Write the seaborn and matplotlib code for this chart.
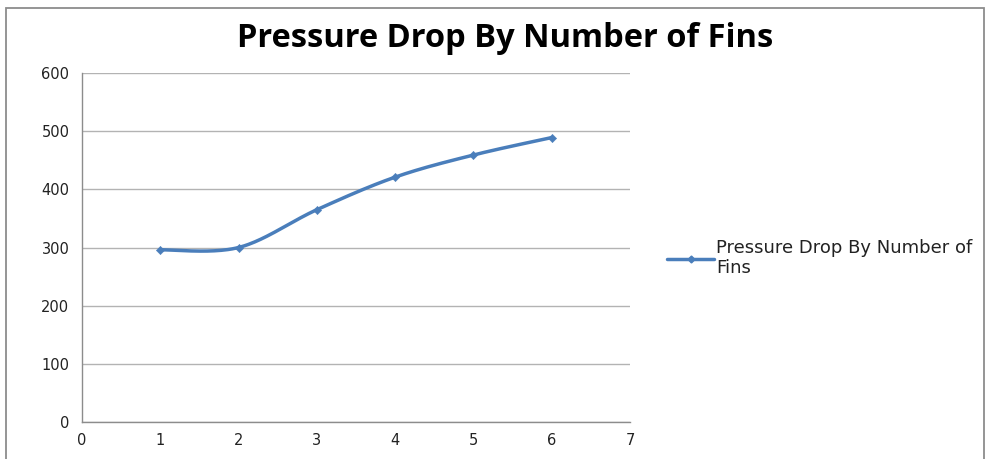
import numpy as np
import matplotlib
matplotlib.use("Agg")
import matplotlib.pyplot as plt
import seaborn as sns
from matplotlib.lines import Line2D
from matplotlib.patches import Rectangle

fins = [1, 2, 3, 4, 5, 6]
pressure_drop = [296, 300, 365, 421, 459, 489]
series_name = "Pressure Drop By Number of Fins"
title = "Pressure Drop By Number of Fins"
x_ticks = [0, 1, 2, 3, 4, 5, 6, 7]
y_ticks = [0, 100, 200, 300, 400, 500, 600]

sns.set_theme(style="white")
plt.rcParams['font.family'] = ['DejaVu Sans']

def excel_smooth(xs, ys, n=40):
    P = np.column_stack([xs, ys]).astype(float)
    Pe = np.vstack([P[0], P, P[-1]])
    out = []
    for i in range(1, len(Pe) - 2):
        p0, p1, p2, p3 = Pe[i - 1], Pe[i], Pe[i + 1], Pe[i + 2]
        c1 = p1 + (p2 - p0) / 6.0
        c2 = p2 - (p3 - p1) / 6.0
        t = np.linspace(0, 1, n)[:, None]
        seg = ((1 - t) ** 3) * p1 + 3 * ((1 - t) ** 2) * t * c1 + 3 * (1 - t) * t ** 2 * c2 + t ** 3 * p2
        out.append(seg if i == 1 else seg[1:])
    c = np.vstack(out)
    return c[:, 0], c[:, 1]

color = "#4A7EBB"
fig = plt.figure(figsize=(9.89, 4.59), dpi=100)
ax = fig.add_axes([82 / 989, 37 / 459, (630 - 82) / 989, (422 - 73) / 459])

sx, sy = excel_smooth(fins, pressure_drop)
sns.lineplot(x=sx, y=sy, sort=False, ax=ax, color=color, linewidth=2.5, estimator=None)
sns.scatterplot(x=fins, y=pressure_drop, ax=ax, color=color, marker="D", s=18, edgecolor=color, zorder=5)

ax.set_xlim(x_ticks[0], x_ticks[-1])
ax.set_ylim(y_ticks[0], y_ticks[-1])
ax.set_xticks(x_ticks)
ax.set_yticks(y_ticks)
ax.yaxis.grid(True, color="#B3B3B3", linewidth=1)
ax.xaxis.grid(False)
ax.set_axisbelow(True)
for s in ["top", "right"]:
    ax.spines[s].set_visible(False)
for s in ["left", "bottom"]:
    ax.spines[s].set_color("#8C8C8C")
    ax.spines[s].set_linewidth(1)
ax.tick_params(axis="both", which="major", direction="out", length=5, width=1,
               color="#8C8C8C", labelsize=10.5, labelcolor="#222222", pad=4)
ax.tick_params(axis="x", pad=3)

fig.text(0.511, 0.917, title, ha="center", va="center", fontsize=23.5,
         fontweight="bold", family=["Open Sans", "DejaVu Sans"], color="black")

handle = Line2D([], [], color=color, linewidth=2.5, marker="D", markersize=3.5)
leg = fig.legend([handle], ["Pressure Drop By Number of\nFins"], loc="center left",
                 bbox_to_anchor=(658 / 989, 1 - 258 / 459), frameon=False,
                 fontsize=13, handlelength=2.6, handletextpad=0.1, borderpad=0,
                 labelspacing=0)
for t in leg.get_texts():
    t.set_color("#222222")
    t.set_linespacing(1.1)

fig.patches.append(Rectangle((6 / 989, -0.05), (984 - 6) / 989, 1.05 - 8 / 459,
                             transform=fig.transFigure, fill=False,
                             edgecolor="#8C8C8C", linewidth=1.3))

fig.savefig("out.png", dpi=100, facecolor="white")
